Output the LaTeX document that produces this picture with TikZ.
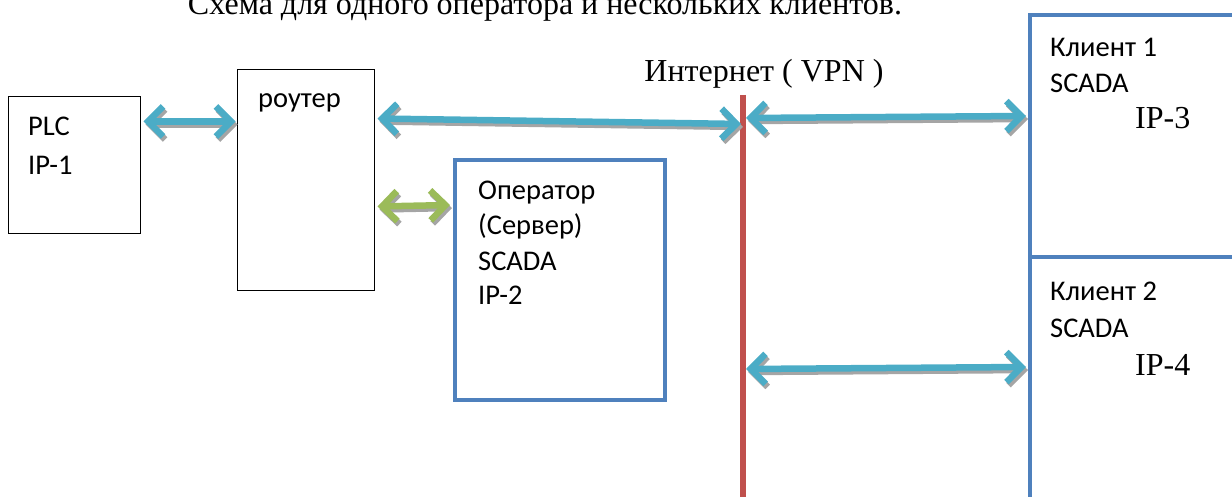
\documentclass[tikz,border=0pt]{standalone}
\usepackage{fontspec}
\setmainfont{Liberation Serif}
\newfontfamily\calib{Carlito}
\usetikzlibrary{arrows.meta,calc}
\definecolor{arrteal}{HTML}{4BACC6}
\definecolor{arrgreen}{HTML}{9BBB59}
\definecolor{boxblue}{HTML}{4F81BD}
\definecolor{netred}{HTML}{C0504D}
\definecolor{shadowgray}{HTML}{A5A5A5}
\tikzset{
  thinbox/.style={draw=black, line width=1pt, inner sep=0pt},
  bluebox/.style={draw=boxblue, line width=4pt, inner sep=0pt},
  sanslbl/.style={font=\calib\fontsize{28.5}{34}\selectfont, anchor=base west, inner sep=0pt},
  seriflbl/.style={font=\fontsize{32}{38}\selectfont, inner sep=0pt},
  barbs/.style={{Straight Barb[length=15pt,width=30pt]}-{Straight Barb[length=15pt,width=30pt]}},
  conn/.style={line width=6.5pt, barbs, line cap=round, line join=round},
  shadow/.style={conn, draw=shadowgray, transform canvas={shift={(2pt,-3pt)}}},
  netline/.style={draw=netred, line width=6pt}
}
\newcommand\twoarrow[3]{%
  \draw[shadow] #1 -- #2;
  \draw[conn, draw=#3] #1 -- #2;}
\begin{document}
\begin{tikzpicture}[x=1pt,y=-1pt]
\useasboundingbox (0,0) rectangle (1232,497);
\clip (0,0) rectangle (1232,497);

% title
\node[seriflbl, anchor=base] (title) at (545,15) {Схема для одного оператора и нескольких клиентов.};

% boxes
\node[thinbox, minimum width=132pt, minimum height=137pt] (plc) at (74,165.5) {};
\node[sanslbl] (plc1) at (28,136) {PLC};
\node[sanslbl] (plc2) at (28,175) {IP-1};

\node[thinbox, minimum width=137pt, minimum height=220pt] (router) at (305.5,180) {};
\node[sanslbl] (routerT) at (258,108) {роутер};

\node[bluebox, minimum width=210pt, minimum height=240pt] (operator) at (560,280) {};
\node[sanslbl] (op1) at (478,200) {Оператор};
\node[sanslbl] (op2) at (478,235) {(Сервер)};
\node[sanslbl] (op3) at (478,270) {SCADA};
\node[sanslbl] (op4) at (478,305) {IP-2};

\node[bluebox, minimum width=220pt, minimum height=242pt] (client1) at (1140,136) {};
\node[sanslbl] (c11) at (1050,57) {Клиент 1};
\node[sanslbl] (c12) at (1050,93) {SCADA};
\node[seriflbl, anchor=base west] (c13) at (1135,129) {IP-3};

\node[bluebox, minimum width=220pt, minimum height=263pt] (client2) at (1140,388.5) {};
\node[sanslbl] (c21) at (1050,300) {Клиент 2};
\node[sanslbl] (c22) at (1050,337) {SCADA};
\node[seriflbl, anchor=base west] (c23) at (1135,375) {IP-4};

% internet line
\coordinate (inetT) at (743,95);
\coordinate (inetB) at (743,510);
\draw[netline] (inetT) -- (inetB);
\node[seriflbl, anchor=base] (inetL) at (764,82) {Интернет ( VPN )};

% connectors
\twoarrow{($(plc.north east)+(3,25)$)}{($(router.north west)+(-1,52)$)}{arrteal}
\twoarrow{($(router.north east)+(3,49)$)}{($(inetT)+(-2,29)$)}{arrteal}
\twoarrow{($(inetT)+(3,23)$)}{($(client1.north west)+(-2,103)$)}{arrteal}
\twoarrow{($(router.north east)+(3,137)$)}{($(operator.north west)+(-3,47)$)}{arrgreen}
\twoarrow{($(inetT)+(3,274)$)}{($(client2.north west)+(-2,112)$)}{arrteal}
\end{tikzpicture}
\end{document}
